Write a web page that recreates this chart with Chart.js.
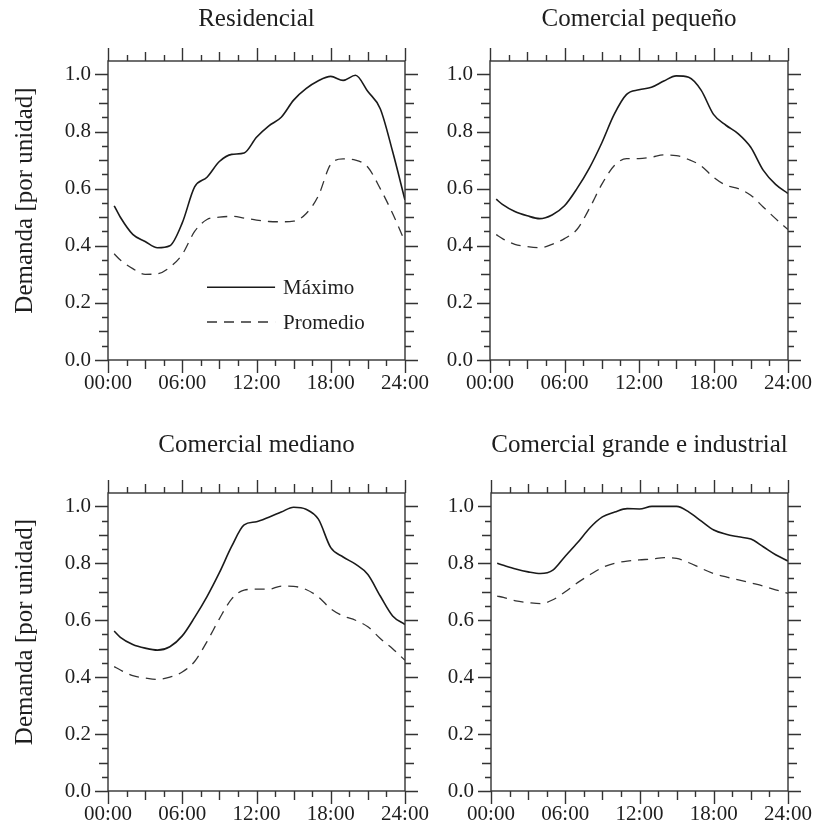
<!DOCTYPE html>
<html>
<head>
<meta charset="utf-8">
<title>Curvas de demanda</title>
<script src="https://cdn.jsdelivr.net/npm/chart.js@4.4.1/dist/chart.umd.min.js"></script>
<style>
    body { margin: 0; background: #fff; }
    #page { position: relative; width: 815px; height: 829px; overflow: hidden; background: #fff; }
    #page canvas { position: absolute; }
</style>
</head>
<body>
<div id="page">
    <canvas id="residencial"></canvas>
    <canvas id="pequeno"></canvas>
    <canvas id="mediano"></canvas>
    <canvas id="grande"></canvas>
</div>
<script>
// Hour of day for every sample (per-unit demand)
const hours = [0.5, 1, 2, 3, 4, 5, 6, 7, 8, 9, 10, 11, 12, 13, 14, 15, 16, 17, 18, 19, 20, 21, 22, 23, 24];

const residencialMax = [0.54, 0.50, 0.44, 0.415, 0.393, 0.40, 0.48, 0.606, 0.64, 0.695, 0.72, 0.725, 0.78,
    0.82, 0.85, 0.91, 0.95, 0.978, 0.993, 0.979, 0.997, 0.94, 0.88, 0.73, 0.56];
const residencialAvg = [0.372, 0.35, 0.32, 0.30, 0.302, 0.325, 0.37, 0.45, 0.492, 0.50, 0.503, 0.497, 0.49,
    0.485, 0.484, 0.486, 0.512, 0.575, 0.685, 0.704, 0.70, 0.675, 0.60, 0.513, 0.414];

const pequenoMax = [0.563, 0.545, 0.52, 0.505, 0.495, 0.508, 0.54, 0.60, 0.672, 0.76, 0.86, 0.93, 0.946,
    0.955, 0.977, 0.995, 0.99, 0.945, 0.86, 0.822, 0.792, 0.745, 0.665, 0.615, 0.583];
const pequenoAvg = [0.439, 0.425, 0.405, 0.397, 0.393, 0.405, 0.425, 0.457, 0.53, 0.615, 0.68, 0.705, 0.705,
    0.71, 0.718, 0.716, 0.702, 0.68, 0.64, 0.612, 0.60, 0.577, 0.536, 0.495, 0.457];

const medianoMax = [0.562, 0.54, 0.515, 0.502, 0.495, 0.507, 0.545, 0.61, 0.683, 0.767, 0.86, 0.935, 0.946,
    0.962, 0.98, 0.997, 0.99, 0.955, 0.855, 0.822, 0.797, 0.761, 0.685, 0.615, 0.585];
const medianoAvg = [0.437, 0.425, 0.405, 0.397, 0.392, 0.40, 0.418, 0.455, 0.525, 0.605, 0.675, 0.706, 0.709,
    0.709, 0.72, 0.719, 0.708, 0.682, 0.64, 0.615, 0.60, 0.577, 0.536, 0.50, 0.459];

const grandeMax = [0.80, 0.793, 0.78, 0.77, 0.764, 0.776, 0.825, 0.873, 0.925, 0.963, 0.98, 0.992, 0.991,
    1.0, 1.0, 1.0, 0.98, 0.948, 0.917, 0.902, 0.893, 0.885, 0.858, 0.83, 0.808];
const grandeAvg = [0.685, 0.68, 0.668, 0.662, 0.658, 0.672, 0.70, 0.732, 0.76, 0.785, 0.80, 0.808, 0.812,
    0.815, 0.82, 0.817, 0.802, 0.782, 0.764, 0.752, 0.742, 0.731, 0.72, 0.707, 0.694];

const hourLabels = ['00:00', '06:00', '12:00', '18:00', '24:00'];
const seriesNames = ['Máximo', 'Promedio'];
const yCaption = 'Demanda [por unidad]';

const SERIF = "'Liberation Serif', 'Times New Roman', serif";
const INK = '#1e1e1e';

// box = canvas placement on the page, area = plot rectangle in page pixels.
// Canvases overlap (they are transparent) so the right-hand ticks and the
// last hour label have room.
const panels = [
    { id: 'residencial', title: 'Residencial', max: residencialMax, avg: residencialAvg,
      box: { left: 0, top: 0, width: 450, height: 415 },
      area: { left: 108, top: 61, right: 405, bottom: 360 }, titleTop: 7, yTitle: true, legend: true },
    { id: 'pequeno', title: 'Comercial pequeño', max: pequenoMax, avg: pequenoAvg,
      box: { left: 410, top: 0, width: 440, height: 415 },
      area: { left: 490, top: 61, right: 788, bottom: 360 }, titleTop: 7 },
    { id: 'mediano', title: 'Comercial mediano', max: medianoMax, avg: medianoAvg,
      box: { left: 0, top: 415, width: 450, height: 414 },
      area: { left: 108, top: 493, right: 405, bottom: 791 }, titleTop: 18, yTitle: true },
    { id: 'grande', title: 'Comercial grande e industrial', max: grandeMax, avg: grandeAvg,
      box: { left: 410, top: 415, width: 440, height: 414 },
      area: { left: 491, top: 493, right: 788, bottom: 791 }, titleTop: 18 }
];

function toPoints(values) {
    return values.map((v, i) => ({ x: hours[i], y: v }));
}

// Closed frame with outward ticks on all four sides (major / medium / minor)
const frameTicks = {
    id: 'frameTicks',
    afterDraw(chart) {
        const { ctx, chartArea: a, scales: { x, y } } = chart;
        ctx.save();
        ctx.strokeStyle = '#333';
        ctx.lineWidth = 1.4;
        ctx.strokeRect(a.left, a.top, a.right - a.left, a.bottom - a.top);
        ctx.beginPath();
        for (let h = 0; h <= 24; h += 1.5) {
            const px = Math.round(x.getPixelForValue(h)) + 0.5;
            const len = h % 6 === 0 ? 13 : (h % 3 === 0 ? 9 : 6);
            ctx.moveTo(px, a.bottom);
            ctx.lineTo(px, a.bottom + len);
            ctx.moveTo(px, a.top);
            ctx.lineTo(px, a.top - len);
        }
        for (let i = 0; i <= 20; i++) {
            const py = Math.round(y.getPixelForValue(i * 0.05)) + 0.5;
            const len = i % 4 === 0 ? 13 : (i % 2 === 0 ? 9 : 6);
            ctx.moveTo(a.left, py);
            ctx.lineTo(a.left - len, py);
            ctx.moveTo(a.right, py);
            ctx.lineTo(a.right + len, py);
        }
        ctx.stroke();
        ctx.restore();
    }
};

// Vertical axis caption, sitting a little above the middle of the plot
const axisCaption = {
    id: 'axisCaption',
    afterDraw(chart) {
        if (!chart.options.plugins.axisCaption.show) return;
        const { ctx, chartArea: a } = chart;
        ctx.save();
        ctx.translate(25, (a.top + a.bottom) / 2 - 10);
        ctx.rotate(-Math.PI / 2);
        ctx.font = '25px ' + SERIF;
        ctx.fillStyle = INK;
        ctx.textAlign = 'center';
        ctx.textBaseline = 'middle';
        ctx.fillText(yCaption, 0, 0);
        ctx.restore();
    }
};

// Line-sample legend inside the first panel
const sampleLegend = {
    id: 'sampleLegend',
    afterDatasetsDraw(chart) {
        if (!chart.options.plugins.sampleLegend.show) return;
        const { ctx, scales: { x, y } } = chart;
        const x0 = x.getPixelForValue(8.0);
        const x1 = x.getPixelForValue(13.5);
        const rows = [0.255, 0.133];
        ctx.save();
        ctx.font = '21px ' + SERIF;
        ctx.fillStyle = INK;
        ctx.textBaseline = 'middle';
        chart.data.datasets.forEach((ds, i) => {
            const py = y.getPixelForValue(rows[i]);
            ctx.strokeStyle = ds.borderColor;
            ctx.lineWidth = ds.borderWidth;
            ctx.setLineDash(ds.borderDash || []);
            ctx.beginPath();
            ctx.moveTo(x0, py);
            ctx.lineTo(x1, py);
            ctx.stroke();
            ctx.fillText(ds.label, x1 + 8, py + 1);
        });
        ctx.restore();
    }
};

function makePanel(p) {
    const canvas = document.getElementById(p.id);
    canvas.width = p.box.width;
    canvas.height = p.box.height;
    canvas.style.left = p.box.left + 'px';
    canvas.style.top = p.box.top + 'px';

    const yWidth = p.area.left - p.box.left;
    const xHeight = p.box.top + p.box.height - p.area.bottom;
    const titleBottom = (p.area.top - p.box.top) - p.titleTop - 25;

    new Chart(canvas, {
        type: 'line',
        data: {
            datasets: [{
                label: seriesNames[0],
                data: toPoints(p.max),
                borderColor: '#1a1a1a',
                borderWidth: 1.6,
                pointRadius: 0,
                cubicInterpolationMode: 'monotone'
            }, {
                label: seriesNames[1],
                data: toPoints(p.avg),
                borderColor: '#333',
                borderWidth: 1.3,
                borderDash: [10, 7],
                pointRadius: 0,
                cubicInterpolationMode: 'monotone'
            }]
        },
        options: {
            responsive: false,
            animation: false,
            devicePixelRatio: 1,
            layout: {
                padding: { left: 0, top: 0, bottom: 0, right: p.box.left + p.box.width - p.area.right }
            },
            scales: {
                x: {
                    type: 'linear',
                    min: 0,
                    max: 24,
                    grid: { display: false, drawTicks: false },
                    border: { display: false },
                    afterFit: (scale) => { scale.height = xHeight; },
                    ticks: {
                        stepSize: 6,
                        padding: 11,
                        maxRotation: 0,
                        autoSkip: false,
                        color: INK,
                        font: { family: SERIF, size: 21 },
                        callback: (v) => hourLabels[v / 6]
                    }
                },
                y: {
                    min: 0,
                    max: 1.047,
                    grid: { display: false, drawTicks: false },
                    border: { display: false },
                    afterFit: (scale) => { scale.width = yWidth; },
                    ticks: {
                        stepSize: 0.2,
                        includeBounds: false,
                        padding: 17,
                        color: INK,
                        font: { family: SERIF, size: 21 },
                        callback: (v) => v.toFixed(1)
                    }
                }
            },
            plugins: {
                legend: { display: false },
                tooltip: { enabled: false },
                title: {
                    display: true,
                    text: p.title,
                    fullSize: false,
                    color: INK,
                    font: { family: SERIF, size: 25, weight: 'normal', lineHeight: 1 },
                    padding: { top: p.titleTop, bottom: titleBottom }
                },
                axisCaption: { show: !!p.yTitle },
                sampleLegend: { show: !!p.legend }
            }
        },
        plugins: [frameTicks, axisCaption, sampleLegend]
    });
}

function init() {
    panels.forEach(makePanel);
}

init();
</script>
</body>
</html>
